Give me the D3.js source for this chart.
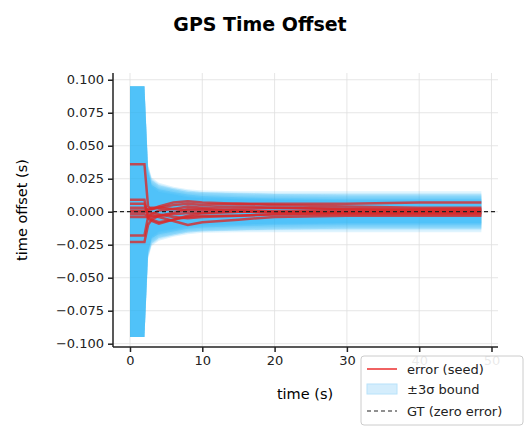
<!DOCTYPE html>
<html><head><meta charset="utf-8">
<script src="https://cdn.jsdelivr.net/npm/d3@7"></script>
<style>body{margin:0;background:#fff}svg{font-family:"DejaVu Sans",sans-serif}</style>
</head><body><svg id="c" width="530" height="434"></svg>
<script>
const times = [0, 2, 2.5, 3, 4, 6, 8, 10, 15, 20, 30, 40, 48.6];
// 3-sigma bound per seed (s)
const bounds = [
 [0.095,0.095,0.030,0.020,0.017,0.015,0.013,0.012,0.011,0.0105,0.0100,0.0100,0.0100],
 [0.095,0.095,0.032,0.022,0.018,0.016,0.014,0.013,0.012,0.0115,0.0110,0.0110,0.0110],
 [0.095,0.095,0.034,0.024,0.020,0.018,0.016,0.015,0.014,0.0135,0.0130,0.0130,0.0130],
 [0.095,0.095,0.036,0.026,0.022,0.019,0.017,0.016,0.0155,0.0155,0.0155,0.0155,0.0155],
 [0.095,0.095,0.030,0.021,0.016,0.014,0.012,0.011,0.010,0.0095,0.0090,0.0090,0.0090],
 [0.095,0.095,0.033,0.023,0.019,0.017,0.015,0.014,0.013,0.0125,0.0120,0.0120,0.0120],
 [0.095,0.095,0.031,0.020,0.017,0.015,0.013,0.012,0.011,0.0100,0.0095,0.0095,0.0095],
 [0.095,0.095,0.035,0.025,0.021,0.018,0.016,0.015,0.0145,0.0140,0.0140,0.0140,0.0140],
 [0.095,0.095,0.030,0.019,0.015,0.013,0.011,0.010,0.0095,0.0090,0.0085,0.0085,0.0085],
 [0.095,0.095,0.034,0.024,0.020,0.017,0.015,0.0145,0.0140,0.0135,0.0130,0.0130,0.0130]
];
// error per seed (s)
const errors = [
 [0.036,0.036,0.004,0.002,0.003,0.005,0.006,0.005,0.006,0.006,0.006,0.007,0.007],
 [0.009,0.009,-0.005,-0.007,-0.009,-0.006,-0.004,-0.003,-0.003,-0.002,-0.002,-0.002,-0.002],
 [0.006,0.006,-0.002,-0.003,-0.004,-0.007,-0.010,-0.008,-0.006,-0.004,-0.003,-0.003,-0.003],
 [0.003,0.003,0.001,0.002,0.004,0.007,0.008,0.007,0.006,0.005,0.004,0.003,0.003],
 [-0.004,-0.004,-0.004,-0.002,0.001,0.002,0.004,0.003,0.004,0.003,0.002,0.001,0.001],
 [-0.018,-0.018,-0.004,-0.006,-0.008,-0.006,-0.003,-0.001,0.000,0.000,-0.001,-0.001,-0.001],
 [-0.023,-0.023,-0.010,-0.006,-0.003,-0.001,0.002,0.002,0.001,0.000,0.000,0.000,0.000],
 [0.000,0.000,0.000,-0.001,-0.002,-0.004,-0.005,-0.004,-0.003,-0.002,-0.001,-0.001,-0.001],
 [0.001,0.001,0.002,0.003,0.003,0.002,0.001,0.001,0.002,0.003,0.002,0.002,0.002],
 [-0.002,-0.002,-0.003,-0.004,-0.003,-0.002,-0.001,-0.001,0.000,0.000,0.001,0.001,0.001]
];
const xTicks = [0,10,20,30,40,50];
const yTicks = [-0.1,-0.075,-0.05,-0.025,0,0.025,0.05,0.075,0.1];

const svg = d3.select("#c");
const L=113, R=498, T=73, B=347;
const x = d3.scaleLinear().domain([-2.35, 50.9]).range([L, R]);
const y = d3.scaleLinear().domain([-0.1025, 0.1051]).range([B, T]);

const g = svg.append("g");
g.selectAll(".gx").data(xTicks).join("line").attr("x1",d=>x(d)).attr("x2",d=>x(d)).attr("y1",T).attr("y2",B).attr("stroke","#e0e0e0").attr("stroke-width",0.8);
g.selectAll(".gy").data(yTicks).join("line").attr("y1",d=>y(d)).attr("y2",d=>y(d)).attr("x1",L).attr("x2",R).attr("stroke","#e0e0e0").attr("stroke-width",0.8);

const areaL = d3.area().x((d,i)=>x(times[i])).y0(d=>y(-d)).y1(d=>y(d));
bounds.forEach(b=>{
  g.append("path").attr("d",areaL(b)).attr("fill","#29b6f6").attr("fill-opacity",0.15);
});
const line = d3.line().x((d,i)=>x(times[i])).y(d=>y(d));
errors.forEach(e=>{
  g.append("path").attr("d",line(e)).attr("fill","none").attr("stroke","#d92b2b").attr("stroke-opacity",0.8).attr("stroke-width",2.5);
});
g.append("line").attr("x1",L).attr("x2",R).attr("y1",y(0)).attr("y2",y(0)).attr("stroke","#222").attr("stroke-width",1.2).attr("stroke-dasharray","4,3");

const ax = svg.append("g").attr("transform",`translate(0,${B})`).call(d3.axisBottom(x).tickValues(xTicks).tickSize(5).tickPadding(4).tickFormat(d3.format("d")));
const ay = svg.append("g").attr("transform",`translate(${L},0)`).call(d3.axisLeft(y).tickValues(yTicks).tickSize(5).tickPadding(4).tickFormat(d3.format(".3f")));
[ax,ay].forEach(a=>{a.selectAll("text").attr("font-size",13).attr("fill","#222").style("font-family","DejaVu Sans");a.selectAll("line,path").attr("stroke","#222").attr("stroke-width",1.5);});
ay.selectAll("text").text(d=>d3.format(".3f")(d).replace("-","\u2212"));
ax.select(".domain").attr("d",`M${L},0H${R}`);
ay.select(".domain").attr("d",`M0,${T}V${B}`);

svg.append("text").attr("x",260).attr("y",31).attr("text-anchor","middle").attr("font-size",19).attr("font-weight","bold").text("GPS Time Offset");
svg.append("text").attr("x",305).attr("y",399).attr("text-anchor","middle").attr("font-size",14.5).text("time (s)");
svg.append("text").attr("transform","translate(27,210) rotate(-90)").attr("text-anchor","middle").attr("font-size",14.5).text("time offset (s)");

const lg = svg.append("g").attr("transform","translate(361,356)");
lg.append("rect").attr("width",162).attr("height",69).attr("rx",3).attr("fill","#fff").attr("fill-opacity",0.9).attr("stroke","#ccc");
lg.append("line").attr("x1",6).attr("x2",36).attr("y1",13).attr("y2",13).attr("stroke","#f06262").attr("stroke-width",2);
lg.append("rect").attr("x",6).attr("y",28).attr("width",30).attr("height",10).attr("fill","#d4edfc").attr("stroke","#b8e2fa");
lg.append("line").attr("x1",6).attr("x2",36).attr("y1",55).attr("y2",55).attr("stroke","#222").attr("stroke-width",1.2).attr("stroke-dasharray","4,3");
[["error (seed)",18],["±3σ bound",38],["GT (zero error)",60]].forEach(([t,yy])=>lg.append("text").attr("x",46).attr("y",yy).attr("font-size",13).attr("fill","#222").text(t));
</script></body></html>
